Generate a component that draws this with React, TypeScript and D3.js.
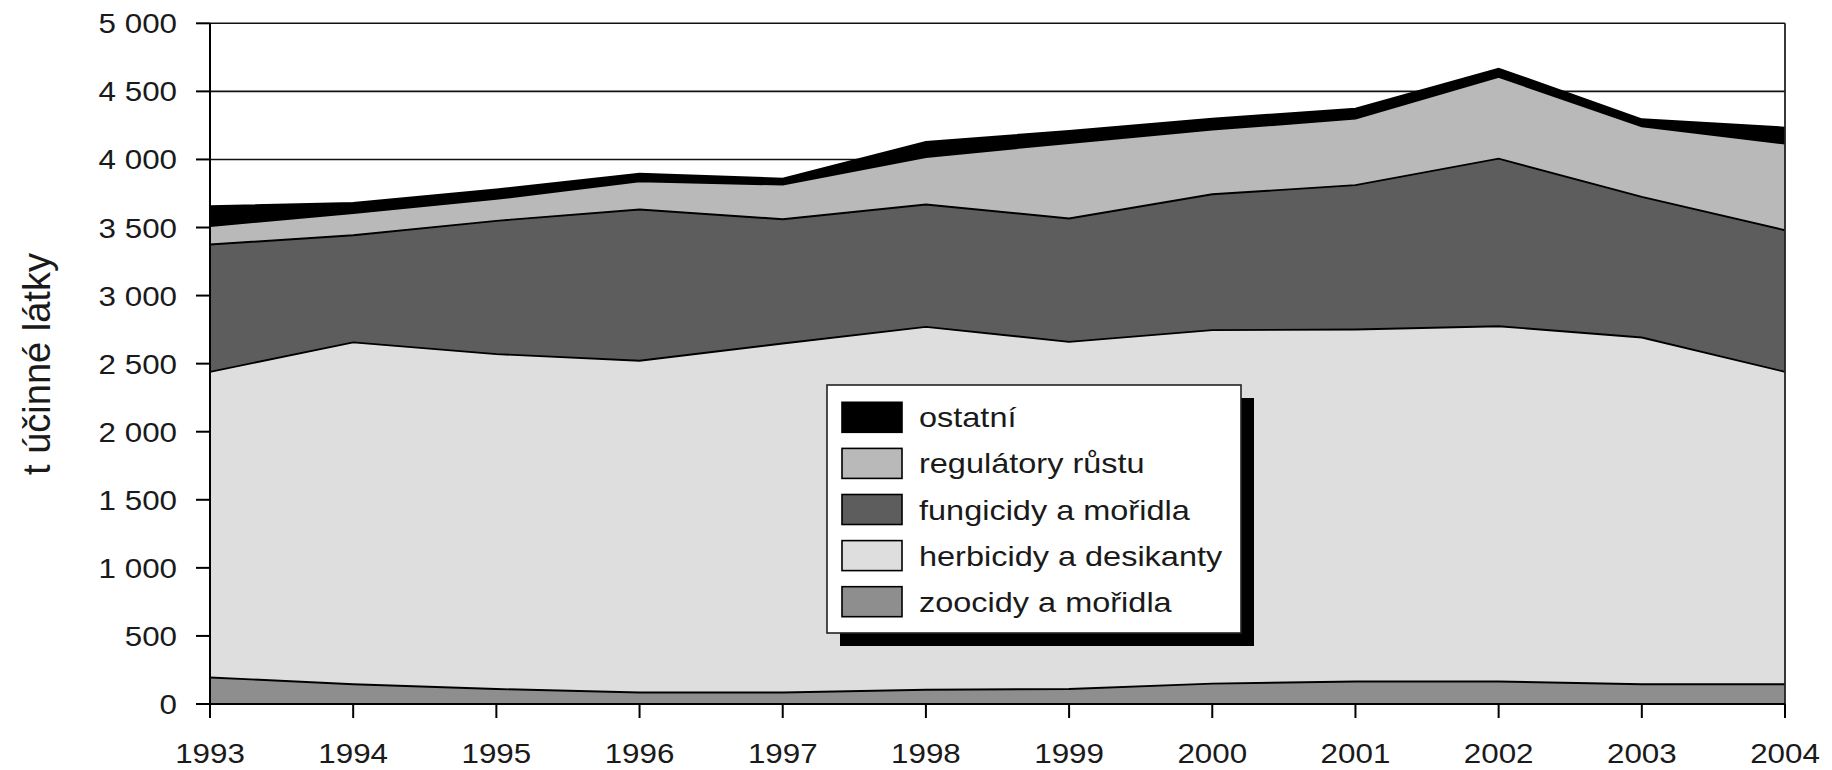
import React from "react";
import * as d3 from "d3";

const years = [1993, 1994, 1995, 1996, 1997, 1998, 1999, 2000, 2001, 2002, 2003, 2004];
const zoocidy = [195, 145, 110, 85, 85, 105, 110, 150, 165, 165, 145, 145];
const herbicidy = [2245, 2511, 2460, 2436, 2563, 2665, 2550, 2596, 2586, 2610, 2547, 2295];
const fungicidy = [935, 787, 979, 1111, 913, 899, 906, 998, 1060, 1231, 1033, 1040];
const regulatory = [135, 164, 161, 208, 254, 349, 555, 475, 489, 600, 519, 636];
const ostatni = [146, 74, 69, 56, 44, 111, 88, 81, 73, 61, 51, 118];

const seriesKeys = ["zoocidy", "herbicidy", "fungicidy", "regulatory", "ostatni"];
const seriesNames = ["zoocidy a mořidla", "herbicidy a desikanty", "fungicidy a mořidla", "regulátory růstu", "ostatní"];
const seriesColors = ["#8e8e8e", "#dedede", "#5d5d5d", "#b9b9b9", "#000000"];

const yTicks = [0, 500, 1000, 1500, 2000, 2500, 3000, 3500, 4000, 4500, 5000];
const yTickLabels = ["0", "500", "1 000", "1 500", "2 000", "2 500", "3 000", "3 500", "4 000", "4 500", "5 000"];
const yTitle = "t účinné látky";

const W = 1832;
const H = 770;
const FONT = "'Liberation Sans', Arial, Helvetica, sans-serif";
const SX = 1.14;

export default function App() {
  const x = d3.scaleLinear().domain([1993, 2004]).range([210, 1785]);
  const y = d3.scaleLinear().domain([0, 5000]).range([704, 23.3]);

  const table = years.map((yr, i) => ({
    year: yr,
    zoocidy: zoocidy[i],
    herbicidy: herbicidy[i],
    fungicidy: fungicidy[i],
    regulatory: regulatory[i],
    ostatni: ostatni[i],
  }));
  const stacked = d3.stack<any>().keys(seriesKeys)(table);

  const area = d3
    .area<any>()
    .x((d) => x(d.data.year))
    .y0((d) => y(d[0]))
    .y1((d) => y(d[1]))
    .curve(d3.curveLinear);
  const topLine = d3
    .line<any>()
    .x((d) => x(d.data.year))
    .y((d) => y(d[1]))
    .curve(d3.curveLinear);

  const x0 = x(1993);
  const x1 = x(2004);
  const yb = y(0);
  const yt = y(5000);

  const lgX = 827;
  const lgY = 385;
  const lgW = 414;
  const lgH = 248;
  const legendOrder = [4, 3, 2, 1, 0];

  return (
    <svg width={W} height={H} style={{ position: "absolute", left: 0, top: 0, background: "#fff" }} fontFamily={FONT}>
      <rect x={0} y={0} width={W} height={H} fill="#fff" />
      {yTicks.slice(1).map((t) => (
        <line key={"g" + t} x1={x0} x2={x1} y1={y(t)} y2={y(t)} stroke="#111" strokeWidth={1.6} />
      ))}
      {stacked.map((s, i) => (
        <path key={"a" + i} d={area(s) || ""} fill={seriesColors[i]} stroke="none" />
      ))}
      {stacked.map((s, i) => (
        <path key={"l" + i} d={topLine(s) || ""} fill="none" stroke="#000" strokeWidth={1.9} />
      ))}
      <line x1={x1} x2={x1} y1={yt} y2={yb} stroke="#222" strokeWidth={1.8} />
      <line x1={x0} x2={x0} y1={yt} y2={yb + 13} stroke="#000" strokeWidth={2} />
      {yTicks.map((t, i) => (
        <g key={"yt" + t}>
          <line x1={x0 - 14} x2={x0} y1={y(t)} y2={y(t)} stroke="#000" strokeWidth={2} />
          <g transform={`translate(${x0 - 33},${y(t) + 10}) scale(${SX},1)`}>
            <text textAnchor="end" fontSize={27.5} fill="#1a1a1a">
              {yTickLabels[i]}
            </text>
          </g>
        </g>
      ))}
      <line x1={x0} x2={x1} y1={yb} y2={yb} stroke="#000" strokeWidth={2} />
      {years.map((yr) => (
        <g key={"xt" + yr}>
          <line x1={x(yr)} x2={x(yr)} y1={yb} y2={yb + 14} stroke="#000" strokeWidth={2} />
          <g transform={`translate(${x(yr)},763) scale(${SX},1)`}>
            <text textAnchor="middle" fontSize={27.5} fill="#1a1a1a">
              {String(yr)}
            </text>
          </g>
        </g>
      ))}
      <g transform={`translate(50,364) rotate(-90)`}>
        <text textAnchor="middle" fontSize={38} fill="#1a1a1a">
          {yTitle}
        </text>
      </g>
      <rect x={lgX + 13} y={lgY + 13} width={lgW} height={lgH} fill="#000" />
      <rect x={lgX} y={lgY} width={lgW} height={lgH} fill="#fff" stroke="#222" strokeWidth={1.6} />
      {legendOrder.map((si, r) => {
        const cy = 417.3 + r * 46.1;
        return (
          <g key={"lg" + si}>
            <rect x={842} y={cy - 15} width={60} height={30} fill={seriesColors[si]} stroke="#000" strokeWidth={1.6} />
            <g transform={`translate(919,${cy + 10}) scale(1.16,1)`}>
              <text fontSize={28} fill="#1a1a1a">
                {seriesNames[si]}
              </text>
            </g>
          </g>
        );
      })}
    </svg>
  );
}
